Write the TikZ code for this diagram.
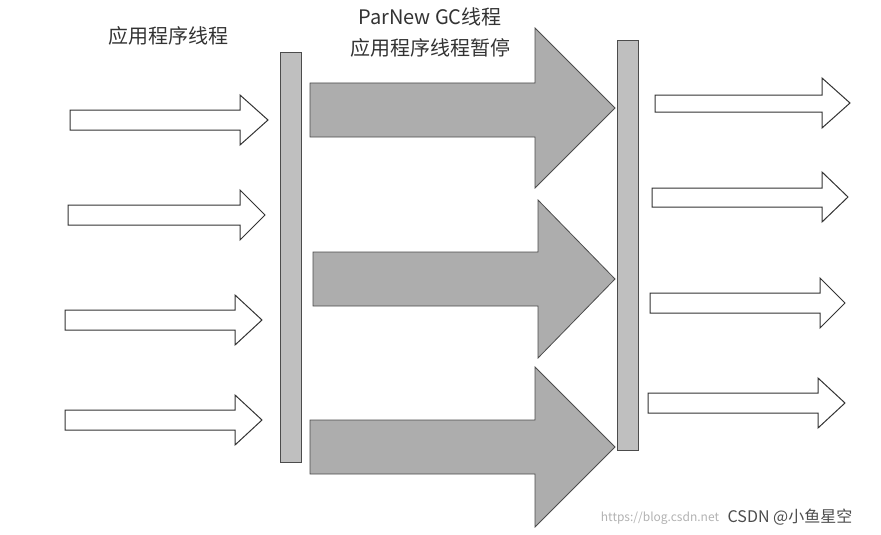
\documentclass[tikz,border=0pt]{standalone}
\usepackage{fontspec}
\setmainfont{Noto Sans CJK SC}
\begin{document}
\begin{tikzpicture}[x=1pt,y=-1pt,
  warrow/.style={draw=black!80,fill=white,line width=1pt,line join=miter},
  garrow/.style={draw=black!70,fill=black!32,line width=0.8pt},
  bar/.style={draw=black!70,fill=black!25,line width=0.8pt},
  lbl/.style={font=\fontsize{20}{24}\selectfont,text=black!80,inner sep=0pt}]
\useasboundingbox (0,0) rectangle (881,535);
\newcommand{\arr}[6]{% x0 x1 tip yc halfshaft halfhead style
  \draw[#6] (#1,{#4-#5}) -- (#2,{#4-#5}) -- (#2,{#4-25}) -- (#3,#4) -- (#2,{#4+25}) -- (#2,{#4+#5}) -- (#1,{#4+#5}) -- cycle;}
% left white arrows
\draw[warrow] (70,110) -- (240,110) -- (240,95) -- (268,120) -- (240,145) -- (240,130) -- (70,130) -- cycle;
\draw[warrow] (68,205) -- (240,205) -- (240,190) -- (265,215) -- (240,240) -- (240,225) -- (68,225) -- cycle;
\draw[warrow] (65,310) -- (235,310) -- (235,295) -- (262,320) -- (235,345) -- (235,330) -- (65,330) -- cycle;
\draw[warrow] (65,410) -- (235,410) -- (235,395) -- (262,420) -- (235,445) -- (235,430) -- (65,430) -- cycle;
% bars
\node[bar,minimum width=21pt,minimum height=410pt,inner sep=0pt] (lb) at (290.5,257) {};
\node[bar,minimum width=21pt,minimum height=410pt,inner sep=0pt] (rb) at (627.5,245) {};
% gray arrows
\draw[garrow] (310,83) -- (535,83) -- (535,28) -- (615,108) -- (535,188) -- (535,137) -- (310,137) -- cycle;
\draw[garrow] (313,252) -- (538,252) -- (538,200) -- (615,279) -- (538,358) -- (538,306) -- (313,306) -- cycle;
\draw[garrow] (310,420) -- (535,420) -- (535,367) -- (615,447) -- (535,527) -- (535,474) -- (310,474) -- cycle;
% right white arrows
\draw[warrow] (655,95) -- (822,95) -- (822,78) -- (850,103) -- (822,128) -- (822,112) -- (655,112) -- cycle;
\draw[warrow] (652,188) -- (822,188) -- (822,172) -- (848,197) -- (822,222) -- (822,207) -- (652,207) -- cycle;
\draw[warrow] (650,293) -- (820,293) -- (820,278) -- (845,303) -- (820,328) -- (820,313) -- (650,313) -- cycle;
\draw[warrow] (648,393) -- (818,393) -- (818,378) -- (845,403) -- (818,428) -- (818,413) -- (648,413) -- cycle;
% labels
\node[lbl] (t1) at (168,36) {应用程序线程};
\node[lbl] (t2) at (430,17) {ParNew GC线程};
\node[lbl] (t3) at (430,48) {应用程序线程暂停};
\node[inner sep=0pt,text=black!30,font=\fontsize{12}{14}\selectfont] (w1) at (660,518) {https://blog.csdn.net};
\node[inner sep=0pt,text=white,fill=white,font=\fontsize{16}{18}\selectfont,text=black!70] (w2) at (790,517) {CSDN @小鱼星空};
\end{tikzpicture}
\end{document}
